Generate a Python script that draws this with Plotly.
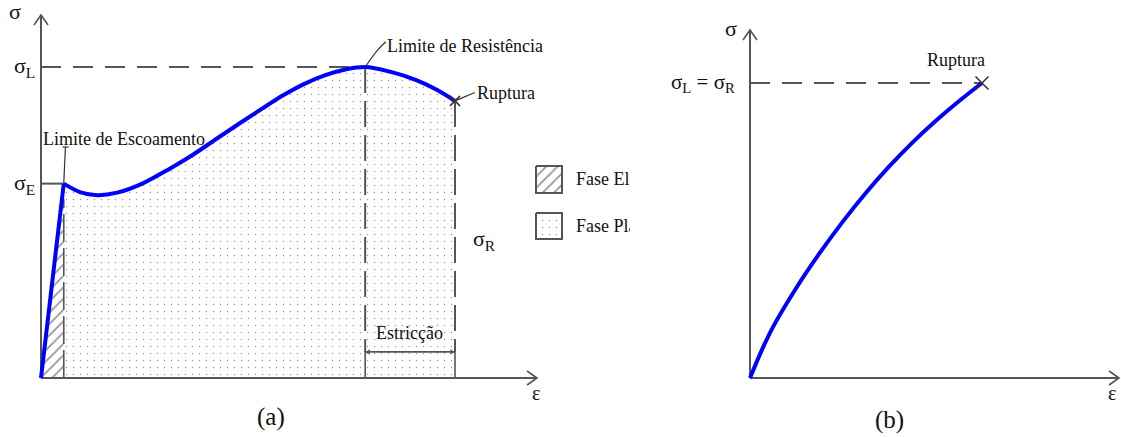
import plotly.graph_objects as go

# ---------------- data (arbitrary units: sigma_L = 100, rupture strain = 100) ----------------
# (a) ductile material
eps_yield, sig_E = 5.5, 62.5          # yield point (Limite de Escoamento)
eps_peak, sig_L = 78.3, 100.0         # ultimate strength (Limite de Resistência)
eps_rup, sig_R = 100.0, 89.1          # rupture
eps_plastic = [5.5, 9.4, 13.5, 18.4, 24.6, 31.2, 36.7, 42.5, 48.1, 53.5, 58.5, 63.5, 68.5, 73.5, 78.3, 84.3, 90.8, 95.7, 100.0]
sig_plastic = [62.5, 59.8, 58.8, 59.6, 62.6, 67.4, 71.8, 77.0, 82.0, 86.7, 90.9, 94.5, 97.3, 99.2, 100.0, 98.5, 95.7, 92.6, 89.1]

# (b) brittle material
eps_brittle = [0, 5, 10, 20, 30, 40, 50, 60, 70, 80, 90, 100]
sig_brittle = [0, 9.3, 17.4, 30.6, 42.3, 53.0, 62.8, 71.7, 79.8, 87.1, 93.8, 100]

# ---------------- page geometry ----------------
W, H = 1121, 437
A_X0, A_Y0, A_KX, A_KY, A_RIGHT = 41, 378, 4.14, 3.11, 630
B_X0, B_Y0, B_KX, B_KY, B_LEFT = 750, 378, 2.32, 2.95, 660

AX = "#555555"
BLUE = "#0000ff"
TXT = "#111111"
FONT = "Liberation Serif"

fig = go.Figure()


def line(x, y, panel, color=AX, width=2, dash="solid", shape="linear"):
    xa, ya = ("x", "y") if panel == "a" else ("x2", "y2")
    fig.add_trace(go.Scatter(x=x, y=y, mode="lines", xaxis=xa, yaxis=ya,
                             line=dict(color=color, width=width, dash=dash, shape=shape),
                             hoverinfo="skip", showlegend=False))


def note(text, x, y, panel, size=18, xanchor="center"):
    xr, yr = ("x", "y") if panel == "a" else ("x2", "y2")
    fig.add_annotation(text=text, x=x, y=y, xref=xr, yref=yr, showarrow=False,
                       xanchor=xanchor, yanchor="middle",
                       font=dict(family=FONT, size=size, color=TXT))


def axes_arrows(panel, x_end, y_end, kx, ky):
    # axis lines with open arrow heads
    line([0, 0], [0, y_end], panel)
    line([0, x_end], [0, 0], panel)
    line([-7 / kx, 0, 7 / kx], [y_end - 10 / ky, y_end, y_end - 10 / ky], panel, width=1.6)
    line([x_end - 10 / kx, x_end, x_end - 10 / kx], [7 / ky, 0, -7 / ky], panel, width=1.6)


DOTS = dict(shape=".", size=7, solidity=0.035, fgcolor="#333333", bgcolor="rgba(0,0,0,0)")
HATCH = dict(shape="/", size=8, solidity=0.2, fgcolor="#222222", bgcolor="rgba(0,0,0,0)")

# ======================= panel (a) =======================
# plastic region (dotted)
fig.add_trace(go.Scatter(x=eps_plastic, y=sig_plastic, mode="lines", fill="tozeroy",
                         line=dict(color="rgba(0,0,0,0)", width=0, shape="spline"),
                         fillcolor="rgba(0,0,0,0)", fillpattern=DOTS,
                         hoverinfo="skip", showlegend=False))
# elastic region (hatched)
fig.add_trace(go.Scatter(x=[0, eps_yield, eps_yield, 0], y=[0, sig_E, 0, 0], mode="lines",
                         fill="toself", line=dict(width=0, color="rgba(0,0,0,0)"),
                         fillcolor="rgba(0,0,0,0)", fillpattern=HATCH,
                         hoverinfo="skip", showlegend=False))
line([eps_yield, eps_yield], [0, sig_E - 5], "a", dash="28px,6px", width=1.6)

a_xend = (537 - A_X0) / A_KX
a_yend = (A_Y0 - 15) / A_KY
axes_arrows("a", a_xend, a_yend, A_KX, A_KY)

# reference lines
line([0, eps_peak], [sig_L, sig_L], "a", dash="20px,12px")
line([0, eps_yield], [sig_E, sig_E], "a")
bracket = 8.4
line([eps_peak, eps_peak], [sig_L, bracket], "a", dash="26px,8px")
line([eps_rup, eps_rup], [sig_R, bracket], "a", dash="26px,8px")
line([eps_peak, eps_peak], [bracket, 0], "a", width=1.6)
line([eps_rup, eps_rup], [bracket, 0], "a", width=1.6)
line([eps_peak, eps_rup], [bracket, bracket], "a", width=1.6)
fig.add_trace(go.Scatter(x=[eps_peak + 0.8, eps_rup - 0.8], y=[bracket, bracket], mode="markers",
                         marker=dict(symbol=["triangle-left", "triangle-right"], size=5, color=AX),
                         hoverinfo="skip", showlegend=False))

# stress-strain curve
line([0, eps_yield], [0, sig_E], "a", color=BLUE, width=4)
line(eps_plastic, sig_plastic, "a", color=BLUE, width=4, shape="spline")
fig.add_trace(go.Scatter(x=[eps_rup], y=[sig_R], mode="markers",
                         marker=dict(symbol="x-thin", size=10, line=dict(width=1.5, color="#333")),
                         hoverinfo="skip", showlegend=False))

# leader lines
line([eps_yield, eps_yield + 0.4], [sig_E, (A_Y0 - 147) / A_KY], "a", color="#333", width=1.2)
line([eps_yield - 0.3, eps_yield + 1.2], [(A_Y0 - 147) / A_KY] * 2, "a", color="#333", width=1.2)
line([eps_peak, eps_peak + 3.1, eps_peak + 5.0], [sig_L, sig_L + 5.6, sig_L + 8.1], "a",
     color="#333", width=1.2, shape="spline")
line([eps_rup, eps_rup + 4.8], [sig_R, sig_R + 2.7], "a", color="#333", width=1.2)

# labels
note("σ", -6.3, 117.7, "a", size=22)
note("σ<sub>L</sub>", -0.9, sig_L, "a", size=22, xanchor="right")
note("σ<sub>E</sub>", -0.9, sig_E, "a", size=22, xanchor="right")
note("ε", 119.6, -4.8, "a", size=20)
note("σ<sub>R</sub>", 103.8, 44.4, "a", size=22, xanchor="left")
note("Limite de Escoamento", 0.1, 77.0, "a", xanchor="left")
note("Limite de Resistência", eps_peak + 4.9, 106.9, "a", xanchor="left")
note("Ruptura", eps_rup + 4.9, 91.7, "a", xanchor="left")
note("Estricção", 88.9, 14.4, "a")
note("(a)", 55.6, -12.6, "a", size=25)

# key boxes
kx0, kx1 = (536 - A_X0) / A_KX, (562 - A_X0) / A_KX
for (ytop, ybot), pat in [(((A_Y0 - 166) / A_KY, (A_Y0 - 193) / A_KY), HATCH),
                          (((A_Y0 - 213) / A_KY, (A_Y0 - 239) / A_KY), DOTS)]:
    fig.add_trace(go.Scatter(x=[kx0, kx1, kx1, kx0, kx0], y=[ytop, ytop, ybot, ybot, ytop],
                             mode="lines", fill="toself", fillcolor="rgba(0,0,0,0)",
                             line=dict(color=AX, width=2), fillpattern=pat,
                             hoverinfo="skip", showlegend=False))
fig.add_trace(go.Scatter(x=[(576 - A_X0) / A_KX] * 2,
                         y=[(A_Y0 - 180) / A_KY, (A_Y0 - 227) / A_KY],
                         text=["Fase Elástica", "Fase Plástica"], mode="text",
                         textposition="middle right",
                         textfont=dict(family=FONT, size=18, color=TXT),
                         hoverinfo="skip", showlegend=False))

# ======================= panel (b) =======================
b_xend = (1119 - B_X0) / B_KX
b_yend = (B_Y0 - 30) / B_KY
axes_arrows("b", b_xend, b_yend, B_KX, B_KY)
line([0, eps_brittle[-1]], [sig_brittle[-1]] * 2, "b", dash="20px,12px")
line(eps_brittle, sig_brittle, "b", color=BLUE, width=4, shape="spline")
fig.add_trace(go.Scatter(x=[eps_brittle[-1]], y=[sig_brittle[-1]], mode="markers", xaxis="x2", yaxis="y2",
                         marker=dict(symbol="x-thin", size=13, line=dict(width=1.5, color="#333")),
                         hoverinfo="skip", showlegend=False))
note("σ", -8.2, 118.6, "b", size=22)
note("σ<sub>L</sub> = σ<sub>R</sub>", -5.4, sig_brittle[-1], "b", size=21, xanchor="right")
note("Ruptura", 88.8, 107.8, "b")
note("ε", 156.0, -5.2, "b", size=20)
note("(b)", 60.3, -14.2, "b", size=25)

hidden = dict(visible=False, showgrid=False, zeroline=False, fixedrange=True)
fig.update_layout(
    width=W, height=H, margin=dict(l=0, r=0, t=0, b=0),
    paper_bgcolor="white", plot_bgcolor="white", showlegend=False,
    xaxis=dict(domain=[0, A_RIGHT / W], range=[-A_X0 / A_KX, (A_RIGHT - A_X0) / A_KX], **hidden),
    yaxis=dict(domain=[0, 1], range=[-(H - A_Y0) / A_KY, A_Y0 / A_KY], **hidden),
    xaxis2=dict(domain=[B_LEFT / W, 1], range=[(B_LEFT - B_X0) / B_KX, (W - B_X0) / B_KX], **hidden),
    yaxis2=dict(domain=[0, 1], range=[-(H - B_Y0) / B_KY, B_Y0 / B_KY], anchor="x2", **hidden),
)
fig.write_html("out.html")
